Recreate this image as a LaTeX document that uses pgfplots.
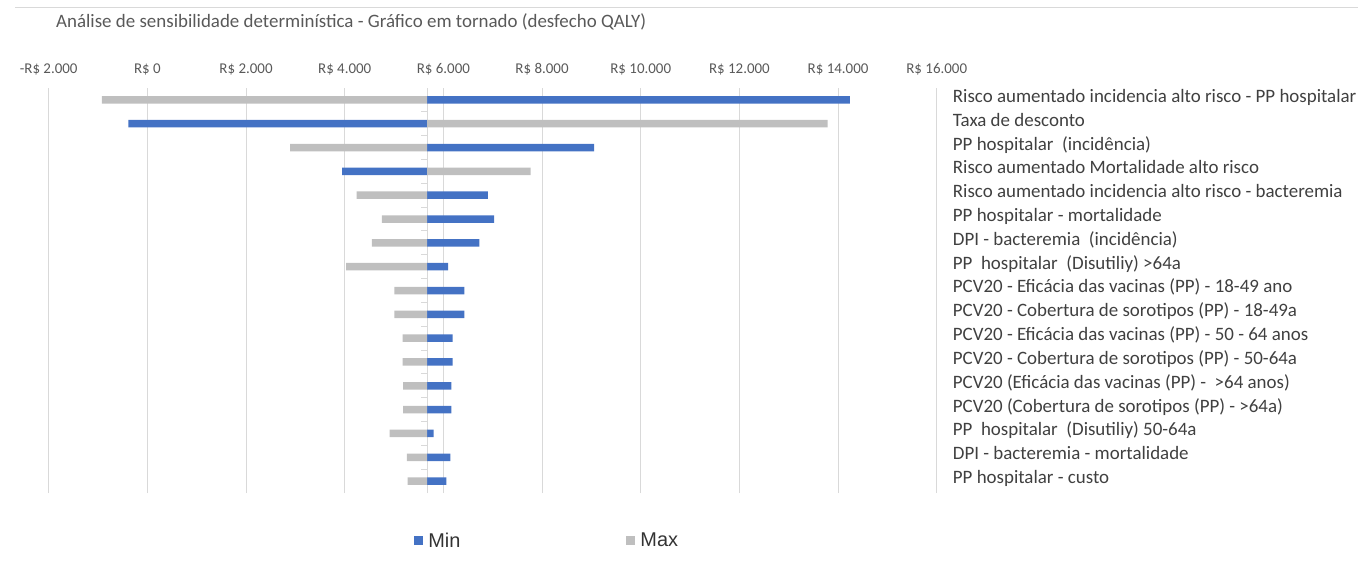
\documentclass[border=0pt]{standalone}
\usepackage{pgfplots}
\pgfplotsset{compat=1.18}
\usepackage{pgfplotstable}
\usepackage{fontspec}
\setmainfont{Carlito}
\newfontfamily\legfont{Liberation Sans}
\definecolor{minblue}{HTML}{4472C4}
\definecolor{maxgray}{HTML}{BFBFBF}
\definecolor{gridgray}{HTML}{D9D9D9}
\definecolor{txtgray}{HTML}{595959}
\definecolor{lbl}{HTML}{404040}

% y = row (17 = top), min / max = ICER values (R$); base case = 5670
\pgfplotstableread{
y  min    max
17 14240  -920
16 -385   13790
15 9055   2895
14 3950   7770
13 6900   4240
12 7030   4755
11 6730   4550
10 6095   4030
9  6425   5005
8  6425   5005
7  6185   5175
6  6185   5175
5  6160   5185
4  6160   5185
3  5800   4910
2  6140   5260
1  6060   5275
}\tornado

\begin{document}
\begin{tikzpicture}[x=1bp,y=1bp]
\useasboundingbox (0,0) rectangle (1358,-564);
\draw[gridgray, line width=1bp] (15,-7.5) -- (1358,-7.5);
\node[anchor=west, inner sep=0pt, font=\fontsize{19}{22}\selectfont, text=txtgray] at (56,-22)
  {Análise de sensibilidade determinística - Gráfico em tornado (desfecho QALY)};
\begin{axis}[
  at={(48.7bp,-88bp)}, anchor=north west,
  scale only axis, width=888bp, height=405bp,
  xmin=-7670, xmax=10330, ymin=0.5, ymax=17.5,
  enlargelimits=false,
  scaled x ticks=false,
  axis line style={draw=none},
  tick style={draw=none},
  major tick length=0pt,
  xmajorgrids, grid style={gridgray, line width=1bp},
  xtick={-7670,-5670,-3670,-1670,330,2330,4330,6330,8330,10330},
  xticklabels={-R\$ 2.000, R\$ 0, R\$ 2.000, R\$ 4.000, R\$ 6.000, R\$ 8.000, R\$ 10.000, R\$ 12.000, R\$ 14.000, R\$ 16.000},
  xticklabel pos=upper,
  xticklabel style={font=\fontsize{15}{18}\selectfont, text=txtgray, yshift=9bp},
  ytick={1,...,17},
  yticklabels={PP hospitalar - custo, DPI - bacteremia - mortalidade, PP~ hospitalar~ (Disutiliy) 50-64a, PCV20 (Cobertura de sorotipos (PP) - >64a), PCV20 (Eficácia das vacinas (PP) -~ >64 anos), PCV20 - Cobertura de sorotipos (PP) - 50-64a, PCV20 - Eficácia das vacinas (PP) - 50 - 64 anos, PCV20 - Cobertura de sorotipos (PP) - 18-49a, PCV20 - Eficácia das vacinas (PP) - 18-49 ano, PP~ hospitalar~ (Disutiliy) >64a, DPI - bacteremia~ (incidência), PP hospitalar - mortalidade, Risco aumentado incidencia alto risco - bacteremia, Risco aumentado Mortalidade alto risco, PP hospitalar~ (incidência), Taxa de desconto, Risco aumentado incidencia alto risco - PP hospitalar},
  yticklabel pos=right,
  yticklabel style={anchor=west, inner sep=0pt, xshift=16bp, font=\fontsize{19}{22}\selectfont, text=lbl, text height=0.7em, text depth=0.2em},
  legend columns=2,
  legend style={at={(0.5614,-0.118)}, anchor=center, draw=none, fill=none,
    font=\legfont\fontsize{20}{23}\selectfont, text=black!80,
    /tikz/every even column/.append style={column sep=164bp}},
]
\draw[gridgray, line width=1bp] (axis cs:0,0.5) -- (axis cs:0,17.5);
\pgfplotsinvokeforeach{1,...,16}{\draw[gridgray, line width=1bp] (axis cs:0,#1.5) -- (axis cs:-125,#1.5);}
\addplot[xbar, bar shift=0pt, bar width=7.5bp, fill=minblue, draw=none,
  legend image code/.code={\fill[minblue] (-3bp,-4.5bp) rectangle (6bp,4.5bp); \path (9bp,0bp);}]
  table[x expr=\thisrow{min}-5670, y=y] {\tornado};
\addlegendentry{Min}
\addplot[xbar, bar shift=0pt, bar width=7.5bp, fill=maxgray, draw=none,
  legend image code/.code={\fill[maxgray] (-3bp,-4.5bp) rectangle (6bp,4.5bp); \path (9bp,0bp);}]
  table[x expr=\thisrow{max}-5670, y=y] {\tornado};
\addlegendentry{Max}
\end{axis}
\end{tikzpicture}
\end{document}
